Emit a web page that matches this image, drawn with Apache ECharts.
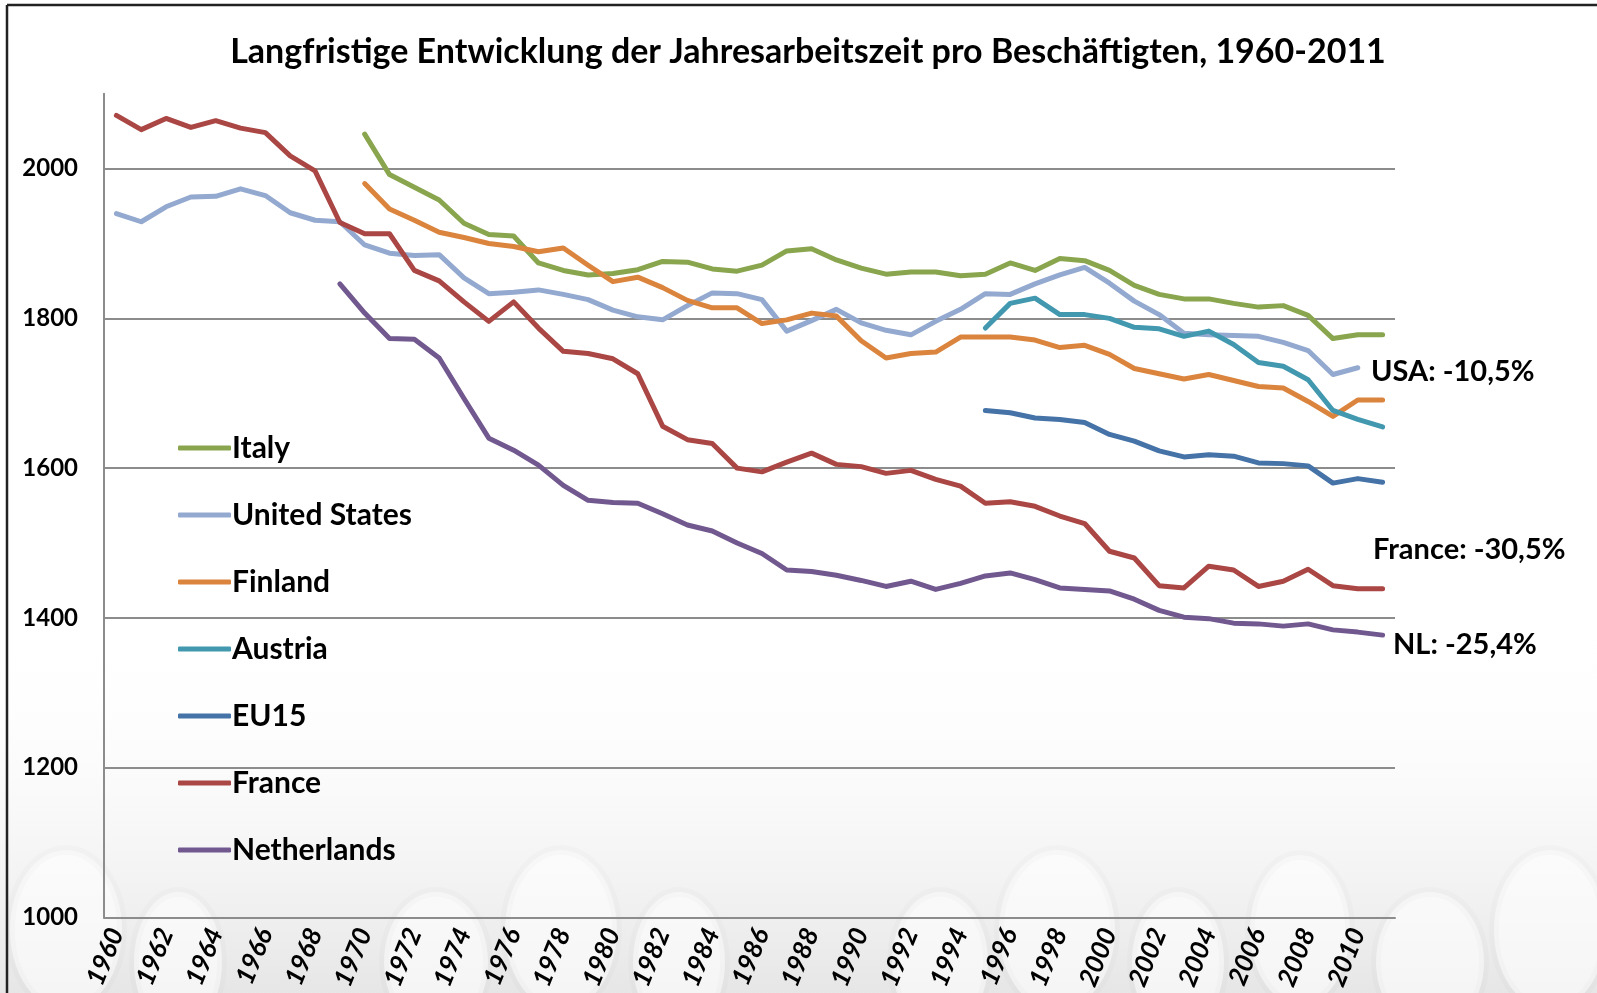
<!DOCTYPE html>
<html>
<head>
<meta charset="utf-8">
<script src="https://cdn.jsdelivr.net/npm/echarts@6/dist/echarts.min.js"></script>
<style>
  html, body { margin: 0; padding: 0; background: #fff; }
  #chart { width: 1597px; height: 993px; }
</style>
</head>
<body>
<div id="chart"></div>
<script>
// Jahre 1960-2011
const years = []
for (let y = 1960; y <= 2011; y++) years.push(String(y))

const italy = [
  null, null, null, null, null, null, null, null, null, null,
  2046, 1992, 1975, 1958, 1927, 1912, 1910, 1874, 1864, 1858,
  1860, 1865, 1876, 1875, 1866, 1863, 1871, 1890, 1893, 1878,
  1867, 1859, 1862, 1862, 1857, 1859, 1874, 1864, 1880, 1877,
  1864, 1844, 1832, 1826, 1826, 1820, 1815, 1817, 1804, 1773,
  1778, 1778
]
const unitedStates = [
  1940, 1929, 1949, 1962, 1963, 1973, 1964, 1941, 1931, 1929,
  1898, 1887, 1884, 1885, 1854, 1833, 1835, 1838, 1832, 1825,
  1811, 1802, 1798, 1817, 1834, 1833, 1825, 1783, 1797, 1812,
  1794, 1784, 1778, 1796, 1812, 1833, 1832, 1846, 1858, 1868,
  1847, 1823, 1805, 1780, 1778, 1777, 1776, 1768, 1757, 1725,
  1734, null
]
const finland = [
  null, null, null, null, null, null, null, null, null, null,
  1980, 1946, 1931, 1915, 1908, 1900, 1896, 1889, 1894, 1871,
  1849, 1855, 1841, 1824, 1814, 1814, 1793, 1798, 1807, 1803,
  1770, 1747, 1753, 1755, 1775, 1775, 1775, 1771, 1761, 1764,
  1752, 1733, 1726, 1719, 1725, 1717, 1709, 1707, 1689, 1669,
  1691, 1691
]
const austria = [
  null, null, null, null, null, null, null, null, null, null,
  null, null, null, null, null, null, null, null, null, null,
  null, null, null, null, null, null, null, null, null, null,
  null, null, null, null, null, 1787, 1820, 1827, 1805, 1805,
  1800, 1788, 1786, 1776, 1783, 1765, 1741, 1736, 1718, 1677,
  1665, 1655
]
const eu15 = [
  null, null, null, null, null, null, null, null, null, null,
  null, null, null, null, null, null, null, null, null, null,
  null, null, null, null, null, null, null, null, null, null,
  null, null, null, null, null, 1677, 1674, 1667, 1665, 1661,
  1645, 1636, 1623, 1615, 1618, 1616, 1607, 1606, 1603, 1580,
  1586, 1581
]
const france = [
  2071, 2052, 2067, 2055, 2064, 2054, 2048, 2017, 1997, 1928,
  1913, 1913, 1864, 1850, 1822, 1796, 1822, 1787, 1756, 1753,
  1746, 1726, 1656, 1638, 1633, 1600, 1595, 1608, 1620, 1605,
  1602, 1593, 1597, 1585, 1576, 1553, 1555, 1549, 1536, 1526,
  1489, 1480, 1443, 1440, 1469, 1464, 1442, 1449, 1465, 1443,
  1439, 1439
]
const netherlands = [
  null, null, null, null, null, null, null, null, null, 1846,
  1807, 1773, 1772, 1747, 1693, 1640, 1624, 1604, 1577, 1557,
  1554, 1553, 1539, 1524, 1516, 1500, 1486, 1464, 1462, 1457,
  1450, 1442, 1449, 1438, 1446, 1456, 1460, 1451, 1440, 1438,
  1436, 1425, 1410, 1401, 1399, 1393, 1392, 1389, 1392, 1384,
  1381, 1377
]

const seriesNames = ['Italy', 'United States', 'Finland', 'Austria', 'EU15', 'France', 'Netherlands']
const seriesData = [italy, unitedStates, finland, austria, eu15, france, netherlands]
const seriesColors = ['#89A54E', '#93A9CF', '#DB843D', '#4198AF', '#4572A7', '#AA4643', '#71588F']

const notes = ['USA: -10,5%', 'France: -30,5%', 'NL: -25,4%']

const FONT = 'Lato, "Noto Sans", sans-serif'

// Hintergrund: grauer Verlauf unten mit hellen Blasen
const bubbles = [
  [66, 930, 56, 80], [178, 962, 44, 70], [436, 962, 52, 70], [561, 930, 56, 80],
  [679, 962, 46, 70], [940, 962, 48, 70], [1057, 930, 58, 80], [1178, 962, 46, 70],
  [1300, 930, 50, 75], [1430, 962, 54, 70], [1550, 930, 56, 80]
]
const bgGraphics = [
  {
    type: 'rect',
    z: -100,
    silent: true,
    shape: { x: 0, y: 620, width: 1597, height: 373 },
    style: {
      fill: new echarts.graphic.LinearGradient(0, 0, 0, 1, [
        { offset: 0, color: 'rgba(255,255,255,0)' },
        { offset: 1, color: '#e6e6e6' }
      ])
    }
  }
].concat(bubbles.map(b => ({
  type: 'ellipse',
  z: -99,
  silent: true,
  shape: { cx: b[0], cy: b[1], rx: b[2], ry: b[3] },
  style: { fill: 'rgba(255,255,255,0.6)', stroke: 'rgba(0,0,0,0.015)', lineWidth: 10 }
})))

const frame = [
  { type: 'line', silent: true, shape: { x1: 7, y1: 5, x2: 1597, y2: 5 }, style: { stroke: '#222', lineWidth: 2.5 } },
  { type: 'line', silent: true, shape: { x1: 7, y1: 5, x2: 7, y2: 993 }, style: { stroke: '#222', lineWidth: 2.5 } }
]

const noteGraphics = [
  { x: 1371, y: 372 },
  { x: 1373, y: 550 },
  { x: 1393, y: 645 }
].map((p, i) => ({
  type: 'text',
  x: p.x,
  y: p.y,
  style: {
    text: notes[i],
    fill: '#000',
    font: 'bold 29px ' + FONT,
    textVerticalAlign: 'middle'
  }
}))

const chart = echarts.init(document.getElementById('chart'))

chart.setOption({
  backgroundColor: '#fff',
  animation: false,
  title: {
    text: 'Langfristige Entwicklung der Jahresarbeitszeit pro Beschäftigten, 1960-2011',
    left: 803,
    top: 30,
    textAlign: 'center',
    textStyle: {
      fontFamily: FONT,
      fontWeight: 'bold',
      fontSize: 34,
      color: '#000'
    }
  },
  legend: {
    orient: 'vertical',
    left: 173,
    top: 428,
    itemWidth: 53,
    itemHeight: 5,
    itemGap: 37,
    icon: 'roundRect',
    data: seriesNames,
    textStyle: {
      fontFamily: FONT,
      fontWeight: 'bold',
      fontSize: 30,
      lineHeight: 30,
      color: '#000',
      padding: [0, 0, 0, -4]
    }
  },
  grid: {
    left: 104,
    right: 202,
    top: 93.7,
    bottom: 74.3,
    containLabel: false
  },
  xAxis: {
    type: 'category',
    data: years,
    boundaryGap: true,
    axisTick: { show: false },
    axisLine: { lineStyle: { color: '#8c8c8c', width: 2 } },
    axisLabel: {
      interval: 1,
      rotate: 68,
      margin: 12,
      fontFamily: FONT,
      fontStyle: 'italic',
      fontWeight: 'bold',
      fontSize: 26,
      color: '#000'
    }
  },
  yAxis: {
    type: 'value',
    min: 1000,
    max: 2100,
    interval: 100,
    axisTick: { show: false },
    axisLine: { show: true, lineStyle: { color: '#8c8c8c', width: 2 } },
    axisLabel: {
      margin: 26,
      fontFamily: FONT,
      fontWeight: 'bold',
      fontSize: 24,
      color: '#000',
      formatter: v => (v % 200 === 0 ? String(v) : '')
    },
    splitLine: {
      lineStyle: { color: ['#8c8c8c', 'rgba(0,0,0,0)'], width: 2 }
    }
  },
  graphic: bgGraphics.concat(frame, noteGraphics),
  series: seriesNames.map((name, i) => ({
    name: name,
    type: 'line',
    data: seriesData[i],
    symbol: 'none',
    connectNulls: false,
    color: seriesColors[i],
    lineStyle: { width: 5, color: seriesColors[i], cap: 'round', join: 'round' }
  }))
})
</script>
</body>
</html>
